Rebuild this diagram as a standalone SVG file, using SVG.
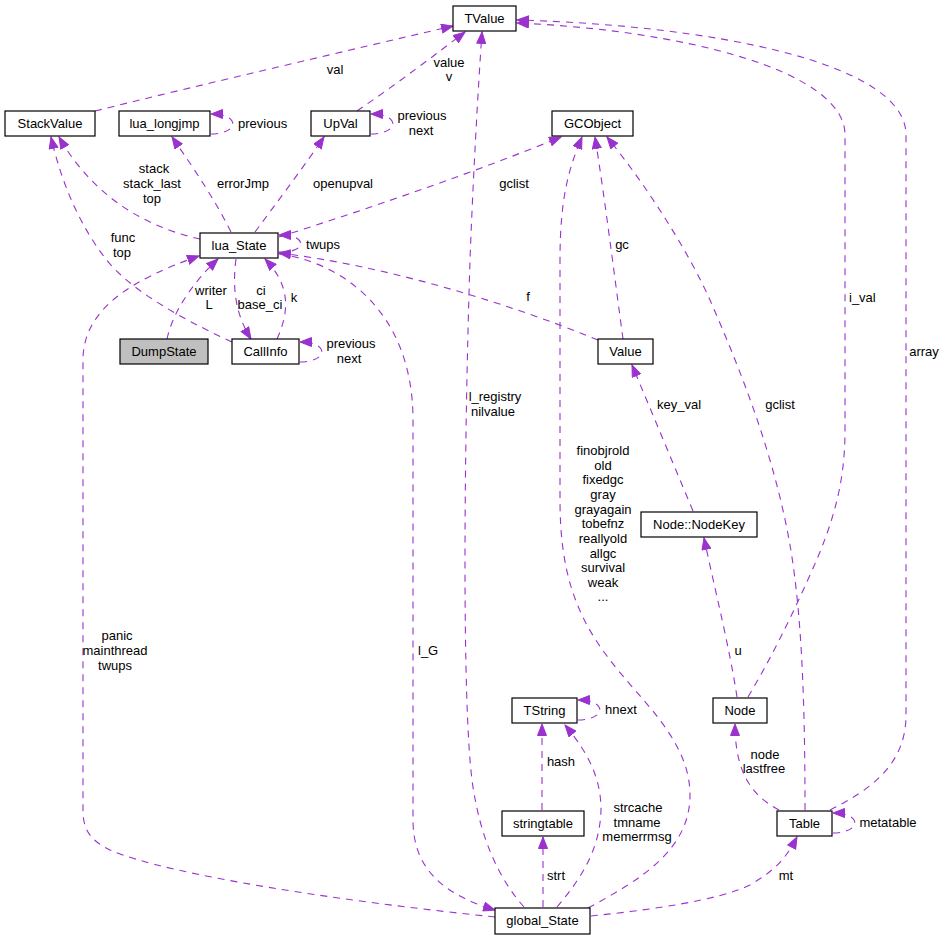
<svg xmlns="http://www.w3.org/2000/svg" width="945" height="940" viewBox="0 0 945 940">
<defs>
<style>
.n rect{fill:#fff;stroke:#000;stroke-width:1.2}
.n.g rect{fill:#bfbfbf}
text{font-family:"Liberation Sans",Arial,Helvetica,sans-serif;font-size:13px;fill:#000}
.n text{text-anchor:middle}
.l{text-anchor:middle}
.s{text-anchor:start}
.e path{fill:none;stroke:#9a32cd;stroke-width:1.1;stroke-dasharray:7,6;marker-end:url(#a)}
</style>
<marker id="a" markerWidth="13" markerHeight="10" refX="12" refY="5" orient="auto" markerUnits="userSpaceOnUse" viewBox="0 0 13 10">
<path d="M0.5,0.5 L12,5 L0.5,9.5 z" fill="#9a32cd" stroke="#9a32cd" stroke-width="1" stroke-dasharray="none"/>
</marker>
</defs>
<rect width="945" height="940" fill="#fff"/>
<g id="edges" class="e">
<path d="M95,111 C200,85 350,50 453,26"/>
<path d="M357,111 C395,85 435,55 465,32"/>
<path d="M211,134 C225,134 236,128 232,121 C229,116 220,114 211,114"/>
<path d="M371,134 C385,134 396,128 392,121 C389,116 380,114 371,114"/>
<path d="M200,239 C150,228 95,200 59,137"/>
<path d="M232,342 C180,318 130,290 105,258 C80,225 62,185 51,137"/>
<path d="M231,232 C215,200 195,170 172,137"/>
<path d="M255,232 C275,205 305,165 324,137"/>
<path d="M279,237 C380,205 480,170 561,137"/>
<path d="M279,252 C295,253 305,246 299,240 C295,236 288,235 279,235"/>
<path d="M167,339 C172,315 190,285 218,259"/>
<path d="M236,259 C232,290 236,315 251,339"/>
<path d="M277,339 C290,310 290,285 265,259"/>
<path d="M300,362 C314,362 325,356 321,349 C318,344 309,342 300,342"/>
<path d="M598,340 C500,300 380,265 279,253"/>
<path d="M623,339 C615,280 605,200 595,137"/>
<path d="M495,917 C350,902 170,876 110,850 C90,840 83,830 83,810 L83,360 C83,310 130,280 199,256"/>
<path d="M279,254 C340,262 413,310 413,420 L413,820 C413,870 445,895 495,910"/>
<path d="M524,907 C500,880 480,840 472,780 C462,700 464,450 470,260 C473,180 478,90 482,32"/>
<path d="M588,908 C640,880 690,850 690,795 C690,740 640,700 610,660 C575,615 560,570 560,500 L560,260 C560,200 568,170 582,137"/>
<path d="M542,810 L542,724"/>
<path d="M578,720 C592,720 603,714 599,707 C596,702 587,700 578,700"/>
<path d="M557,907 C580,880 600,850 601,810 C601,780 590,755 565,725"/>
<path d="M543,907 L543,837"/>
<path d="M591,916 C650,910 720,900 750,885 C775,870 785,860 797,837"/>
<path d="M693,511 L632,365"/>
<path d="M737,697 C730,650 715,590 704,538"/>
<path d="M748,697 C770,660 790,620 810,575 C835,520 845,480 845,430 L845,135 C845,70 680,30 517,23"/>
<path d="M830,810 C870,790 906,765 906,715 L906,135 C906,60 700,25 517,20"/>
<path d="M805,810 C805,720 803,620 790,545 C775,460 745,380 710,300 C690,255 650,190 607,137"/>
<path d="M779,810 C750,795 735,770 735,724"/>
<path d="M833,833 C847,833 858,827 854,820 C851,815 842,813 833,813"/>
</g>
<g id="labels">
<text class="l" x="335" y="74">val</text>
<text class="l" x="449" y="67">value</text>
<text class="l" x="449" y="81">v</text>
<text class="s" x="238" y="128">previous</text>
<text class="l" x="422" y="120">previous</text>
<text class="l" x="421" y="135">next</text>
<text class="l" x="154" y="173">stack</text>
<text class="l" x="152" y="188">stack_last</text>
<text class="l" x="152" y="203">top</text>
<text class="l" x="243" y="188">errorJmp</text>
<text class="l" x="343" y="188">openupval</text>
<text class="l" x="514" y="188">gclist</text>
<text class="l" x="323" y="249">twups</text>
<text class="l" x="123" y="242">func</text>
<text class="l" x="122" y="257">top</text>
<text class="l" x="211" y="295">writer</text>
<text class="l" x="209" y="309">L</text>
<text class="l" x="261" y="295">ci</text>
<text class="l" x="260" y="309">base_ci</text>
<text class="l" x="294" y="302">k</text>
<text class="l" x="351" y="348">previous</text>
<text class="l" x="349" y="363">next</text>
<text class="l" x="528" y="301">f</text>
<text class="l" x="622" y="249">gc</text>
<text class="l" x="495" y="401">l_registry</text>
<text class="l" x="493" y="416">nilvalue</text>
<text class="l" x="603" y="455">finobjrold</text>
<text class="l" x="603" y="470">old</text>
<text class="l" x="603" y="484">fixedgc</text>
<text class="l" x="603" y="499">gray</text>
<text class="l" x="603" y="514">grayagain</text>
<text class="l" x="603" y="528">tobefnz</text>
<text class="l" x="603" y="543">reallyold</text>
<text class="l" x="603" y="558">allgc</text>
<text class="l" x="603" y="572">survival</text>
<text class="l" x="603" y="587">weak</text>
<text class="l" x="603" y="601">...</text>
<text class="l" x="679" y="409">key_val</text>
<text class="l" x="780" y="409">gclist</text>
<text class="s" x="849" y="302">i_val</text>
<text class="l" x="924" y="356">array</text>
<text class="l" x="117" y="640">panic</text>
<text class="l" x="115" y="655">mainthread</text>
<text class="l" x="115" y="670">twups</text>
<text class="s" x="418" y="655">l_G</text>
<text class="l" x="561" y="766">hash</text>
<text class="l" x="621" y="714">hnext</text>
<text class="l" x="638" y="812">strcache</text>
<text class="l" x="637" y="827">tmname</text>
<text class="l" x="637" y="841">memerrmsg</text>
<text class="l" x="556" y="880">strt</text>
<text class="l" x="738" y="655">u</text>
<text class="l" x="765" y="759">node</text>
<text class="l" x="764" y="773">lastfree</text>
<text class="l" x="888" y="827">metatable</text>
<text class="l" x="786" y="880">mt</text>
</g>
<g id="TValue" class="n"><rect x="453" y="6" width="63" height="25"/><text x="484.5" y="23">TValue</text></g>
<g id="StackValue" class="n"><rect x="5" y="111" width="90" height="25"/><text x="50" y="128">StackValue</text></g>
<g id="lua_longjmp" class="n"><rect x="119" y="111" width="91" height="25"/><text x="164.5" y="128">lua_longjmp</text></g>
<g id="UpVal" class="n"><rect x="311" y="111" width="59" height="25"/><text x="340.5" y="128">UpVal</text></g>
<g id="GCObject" class="n"><rect x="552" y="111" width="81" height="25"/><text x="592.5" y="128">GCObject</text></g>
<g id="lua_State" class="n"><rect x="200" y="233" width="78" height="25"/><text x="239" y="250">lua_State</text></g>
<g id="DumpState" class="n g"><rect x="120" y="339" width="88" height="25"/><text x="164" y="356">DumpState</text></g>
<g id="CallInfo" class="n"><rect x="232" y="339" width="67" height="25"/><text x="265.5" y="356">CallInfo</text></g>
<g id="Value" class="n"><rect x="598" y="339" width="55" height="25"/><text x="625.5" y="356">Value</text></g>
<g id="NodeKey" class="n"><rect x="641" y="512" width="116" height="25"/><text x="699" y="529">Node::NodeKey</text></g>
<g id="Node" class="n"><rect x="713" y="698" width="54" height="25"/><text x="740" y="715">Node</text></g>
<g id="TString" class="n"><rect x="512" y="698" width="65" height="25"/><text x="544.5" y="715">TString</text></g>
<g id="Table" class="n"><rect x="777" y="811" width="55" height="25"/><text x="804.5" y="828">Table</text></g>
<g id="stringtable" class="n"><rect x="502" y="811" width="82" height="25"/><text x="543" y="828">stringtable</text></g>
<g id="global_State" class="n"><rect x="495" y="908" width="95" height="26"/><text x="542.5" y="925">global_State</text></g>
</svg>
